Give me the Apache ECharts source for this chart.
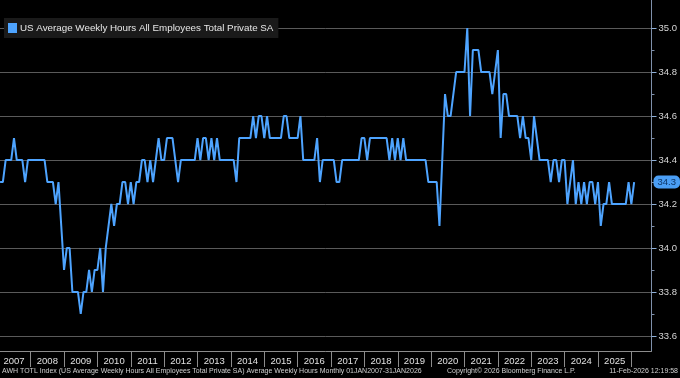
<!DOCTYPE html>
<html><head><meta charset="utf-8">
<script src="https://cdn.jsdelivr.net/npm/echarts@6/dist/echarts.min.js"></script>
<style>html,body{margin:0;padding:0;background:#000;}#c{width:680px;height:378px;}</style>
</head><body><div id="c"></div>
<script>
// ---- data ----
const seriesName = 'US Average Weekly Hours All Employees Total Private SA';
const years = ['2007','2008','2009','2010','2011','2012','2013','2014','2015','2016','2017','2018','2019','2020','2021','2022','2023','2024','2025'];
const h2007 = [34.3,34.3,34.4,34.4,34.4,34.5,34.4,34.4,34.4,34.3,34.4,34.4];
const h2008 = [34.4,34.4,34.4,34.4,34.4,34.3,34.3,34.3,34.2,34.3,34.1,33.9];
const h2009 = [34.0,34.0,33.8,33.8,33.8,33.7,33.8,33.8,33.9,33.8,33.9,33.9];
const h2010 = [34.0,33.8,34.0,34.1,34.2,34.1,34.2,34.2,34.3,34.3,34.2,34.3];
const h2011 = [34.2,34.3,34.3,34.4,34.4,34.3,34.4,34.3,34.4,34.5,34.4,34.4];
const h2012 = [34.5,34.5,34.5,34.4,34.3,34.4,34.4,34.4,34.4,34.4,34.4,34.5];
const h2013 = [34.4,34.5,34.5,34.4,34.5,34.4,34.5,34.4,34.4,34.4,34.4,34.4];
const h2014 = [34.4,34.3,34.5,34.5,34.5,34.5,34.5,34.6,34.5,34.6,34.6,34.5];
const h2015 = [34.6,34.5,34.5,34.5,34.5,34.5,34.6,34.6,34.5,34.5,34.5,34.5];
const h2016 = [34.6,34.4,34.4,34.4,34.4,34.4,34.5,34.3,34.4,34.4,34.4,34.4];
const h2017 = [34.4,34.3,34.3,34.4,34.4,34.4,34.4,34.4,34.4,34.4,34.5,34.5];
const h2018 = [34.4,34.5,34.5,34.5,34.5,34.5,34.5,34.5,34.4,34.5,34.4,34.5];
const h2019 = [34.4,34.5,34.4,34.4,34.4,34.4,34.4,34.4,34.4,34.4,34.3,34.3];
const h2020 = [34.3,34.3,34.1,34.4,34.7,34.6,34.6,34.7,34.8,34.8,34.8,34.8];
const h2021 = [35.0,34.6,34.9,34.9,34.9,34.8,34.8,34.8,34.8,34.7,34.8,34.9];
const h2022 = [34.5,34.7,34.7,34.6,34.6,34.6,34.6,34.5,34.6,34.5,34.5,34.4];
const h2023 = [34.6,34.5,34.4,34.4,34.4,34.4,34.3,34.4,34.4,34.3,34.4,34.4];
const h2024 = [34.2,34.3,34.4,34.2,34.3,34.2,34.3,34.2,34.3,34.3,34.2,34.3];
const h2025 = [34.1,34.2,34.2,34.3,34.2,34.2,34.2,34.2,34.2,34.2,34.3,34.2];
const h2026 = [34.3];
const yTicks = [33.6,33.8,34.0,34.2,34.4,34.6,34.8,35.0];
const yMinorTicks = [33.7,33.9,34.1,34.3,34.5,34.7,34.9];
const footerLeft = 'AWH TOTL Index (US Average Weekly Hours All Employees Total Private SA) Average Weekly Hours Monthly 01JAN2007-31JAN2026';
const footerMid = 'Copyright\u00A9 2026 Bloomberg Finance L.P.';
const footerRight = '11-Feb-2026 12:19:58';

// ---- build ----
const values = [].concat(h2007,h2008,h2009,h2010,h2011,h2012,h2013,h2014,h2015,h2016,h2017,h2018,h2019,h2020,h2021,h2022,h2023,h2024,h2025,h2026);
const points = values.map((v,i)=>[i,v]);
const yearBoundaries = years.map((y,k)=>11+12*k);
const yearCenters = years.map((y,k)=>5+12*k);
const last = values[values.length-1];
const F = "'Liberation Sans Narrow','Arial Narrow','Liberation Sans',sans-serif";
const BLUE = '#4ea4ff';

const chart = echarts.init(document.getElementById('c'), null, {renderer:'canvas'});
chart.setOption({
  animation:false,
  backgroundColor:'#000',
  grid:{left:0,right:28,top:0,bottom:27,containLabel:false},
  legend:{show:true,left:4,top:18,icon:'rect',itemWidth:9,itemHeight:10,itemGap:0,
    backgroundColor:'#1a1a1a',padding:[5,5,5,4],
    textStyle:{color:'#e6e6e6',fontSize:9.8,fontFamily:F,padding:[0,0,0,-2]},data:[seriesName]},
  xAxis:{type:'value',min:-0.03,max:234.25,
    axisLine:{show:true,onZero:false,lineStyle:{color:'#8c8c8c',width:1}},
    axisTick:{show:true,customValues:yearBoundaries,length:16,lineStyle:{color:'#8c8c8c'}},
    axisLabel:{show:true,customValues:yearCenters,color:'#e0e0e0',fontSize:9.5,fontFamily:F,margin:5,
      formatter:v=>years[Math.round((v-5)/12)]},
    splitLine:{show:false}},
  yAxis:[{type:'value',position:'right',min:33.5318,max:35.1273,
    axisLine:{show:true,onZero:false,lineStyle:{color:'#7f90aa'}},
    axisTick:{show:true,customValues:yTicks,length:5,lineStyle:{color:'#8fb0d8'}},
    axisLabel:{show:true,customValues:yTicks,color:'#d6d6d6',fontSize:9.5,fontFamily:F,margin:7,
      formatter:v=>v.toFixed(1)},
    splitLine:{show:true,lineStyle:{color:'#5a5a5a',width:1}}},
   {type:'value',position:'right',min:33.5318,max:35.1273,
    axisLine:{show:false,onZero:false},
    axisTick:{show:true,customValues:yMinorTicks,length:3,lineStyle:{color:'#7f90aa'}},
    axisLabel:{show:false},splitLine:{show:false}}],
  series:[{name:seriesName,type:'line',data:points,symbol:'none',showSymbol:false,
    lineStyle:{color:BLUE,width:2},itemStyle:{color:BLUE},clip:true,
    markLine:{silent:true,symbol:'none',animation:false,lineStyle:{color:'rgba(0,0,0,0)',width:0},
      data:[{yAxis:last}],
      label:{show:true,position:'end',distance:2,formatter:()=>last.toFixed(1),
        backgroundColor:'#4a9ef5',color:'#0d3566',fontSize:9.5,fontFamily:F,padding:[2,4,1,4],borderRadius:5}}}],
  graphic:[
    {type:'text',left:2,top:368,style:{text:footerLeft,fill:'#d0d0d0',font:'7px '+F}},
    {type:'text',left:447,top:368,style:{text:footerMid,fill:'#d0d0d0',font:'7px '+F}},
    {type:'text',right:2,top:368,style:{text:footerRight,fill:'#d0d0d0',font:'7px '+F}}
  ]
});
</script></body></html>
